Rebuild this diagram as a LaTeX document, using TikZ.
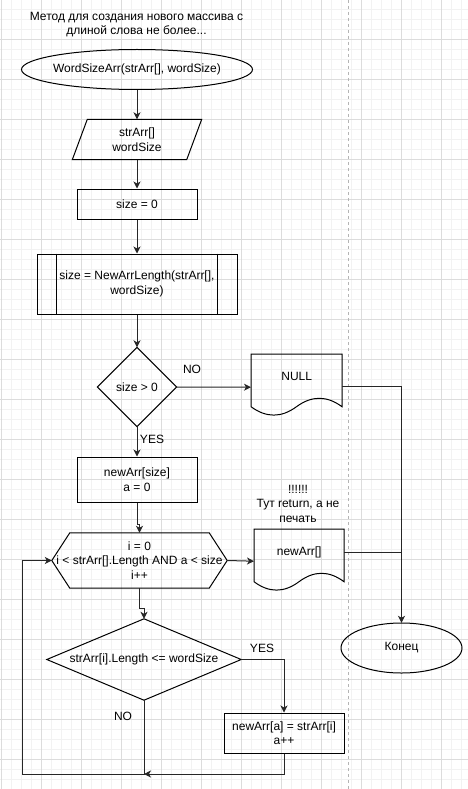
\documentclass[tikz,border=0pt]{standalone}
\usepackage{fontspec}
\setmainfont{Liberation Sans}
\usetikzlibrary{arrows.meta,calc}
\definecolor{minorgrid}{HTML}{F2F2F2}
\definecolor{majorgrid}{HTML}{DCDCDC}
\definecolor{sepline}{HTML}{B4B4B4}
\begin{document}
\begin{tikzpicture}[x=1pt,y=-1pt,
  every node/.style={font=\fontsize{12}{14.5}\selectfont, inner sep=0pt, align=center},
  shp/.style 2 args={minimum width=#1, minimum height=#2},
  outline/.style={draw=black, line width=1pt},
  conn/.style={line width=1pt, draw=black!85},
  arr/.style={conn, -{Stealth[length=7pt,width=7pt,inset=2pt]}},
  lbl/.style={font=\fontsize{12}{14}\selectfont}
]
\useasboundingbox (0,0) rectangle (468,789);
\fill[white] (0,0) rectangle (468,789);
% grid
\foreach \x in {1,11,...,461} \draw[minorgrid, line width=0.8pt] (\x,0) -- (\x,789);
\foreach \y in {9,19,...,789} \draw[minorgrid, line width=0.8pt] (0,\y) -- (468,\y);
\foreach \x in {1,41,...,441} \draw[majorgrid, line width=0.8pt] (\x,0) -- (\x,789);
\foreach \y in {39,79,...,779} \draw[majorgrid, line width=0.8pt] (0,\y) -- (468,\y);
\draw[sepline, line width=0.8pt, dash pattern=on 3pt off 3pt] (348.5,0) -- (348.5,789);

% title
\node (title) at (136.5,24.5) {Метод для создания нового массива с\\длиной слова не более...};

% start
\node[shp={231}{40}] (start) at (137,69.5) {WordSizeArr(strArr[], wordSize)};
\draw[outline] (start.center) ellipse [x radius=115.5, y radius=20];

% input
\node[shp={129}{40}] (inp) at (137,139.5) {strArr[]\\wordSize};
\draw[outline] ([xshift=15pt]inp.north west) -- (inp.north east) -- ([xshift=-15pt]inp.south east) -- (inp.south west) -- cycle;

% size = 0
\node[shp={120}{30}, outline] (s0) at (137,204) {size = 0};

% predefined process
\node[shp={200}{60}, outline] (pp) at (137,284) {size = NewArrLength(strArr[],\\wordSize)};
\draw[outline] ([xshift=20pt]pp.north west) -- ([xshift=20pt]pp.south west);
\draw[outline] ([xshift=-20pt]pp.north east) -- ([xshift=-20pt]pp.south east);

% decision 1
\node[shp={79}{79}] (d1) at (137,387) {size > 0};
\draw[outline] (d1.north) -- (d1.east) -- (d1.south) -- (d1.west) -- cycle;

% NULL document
\node[shp={91}{44}, anchor=north west] (null) at (251,354) {NULL};
\begin{scope}[shift={(null.north west)}]
\draw[outline] (0,0) -- (91,0) -- (91,52.7)
  .. controls (75.8,41.5) and (60.7,41.5) .. (45.5,52.7)
  .. controls (30.3,63.9) and (15.2,63.9) .. (0,52.7) -- cycle;
\end{scope}

% newArr[size]
\node[shp={120}{45}, outline] (b) at (137,479.5) {newArr[size]\\a = 0};

% note
\node (note) at (298,503.5) {!!!!!!\\Тут return, а не\\печать};

% loop hexagon
\node[shp={175}{55}] (hex) at (139.5,560.5) {i = 0\\i < strArr[].Length AND a < size\\i++};
\draw[outline] (hex.west) -- ([xshift=18pt]hex.north west) -- ([xshift=-18pt]hex.north east) -- (hex.east) -- ([xshift=-18pt]hex.south east) -- ([xshift=18pt]hex.south west) -- cycle;

% newArr[] document
\node[shp={90}{46}, anchor=north west] (newarr) at (254,529) {newArr[]};
\begin{scope}[shift={(newarr.north west)}]
\draw[outline] (0,0) -- (90,0) -- (90,52.7)
  .. controls (75,41.5) and (60,41.5) .. (45,52.7)
  .. controls (30,63.9) and (15,63.9) .. (0,52.7) -- cycle;
\end{scope}

% end
\node[shp={121}{50}] (end) at (401.5,648) {Конец};
\draw[outline] (end.center) ellipse [x radius=60.5, y radius=25];

% decision 2
\node[shp={194}{81}] (d2) at (144,659.5) {strArr[i].Length <= wordSize};
\draw[outline] (d2.north) -- (d2.east) -- (d2.south) -- (d2.west) -- cycle;

% newArr[a]
\node[shp={120}{40}, outline] (na) at (284,733) {newArr[a] = strArr[i]\\a++};

% labels
\node[lbl] (no1) at (192,369) {NO};
\node[lbl] (yes1) at (152,439) {YES};
\node[lbl] (yes2) at (262,648) {YES};
\node[lbl] (no2) at (123,716) {NO};

\coordinate (j) at (144,774);
\coordinate (lp) at (22,774);

% connectors
\draw[arr] (start.south) -- (inp.north);
\draw[arr] (inp.south) -- (s0.north);
\draw[arr] (s0.south) -- (pp.north);
\draw[arr] (pp.south) -- (d1.north);
\draw[arr] (d1.east) -- ([yshift=-11pt]null.west);
\draw[arr] (d1.south) -- (b.north);
\draw[arr] (b.south) -- ++(0,22) -| (hex.north);
\draw[arr] (hex.east) -- ([yshift=-9pt]newarr.west);
\draw[arr] ([yshift=-10pt]null.east) -| (end.north);
\draw[conn] (newarr.east) -- (newarr.east -| end.north);
\draw[arr] (hex.south) -- ++(0,20) -| (d2.north);
\draw[arr] (d2.east) -| (na.north);
\draw[arr] (na.south) |- (j);
\draw[arr] (d2.south) |- (lp) |- (hex.west);
\end{tikzpicture}
\end{document}
